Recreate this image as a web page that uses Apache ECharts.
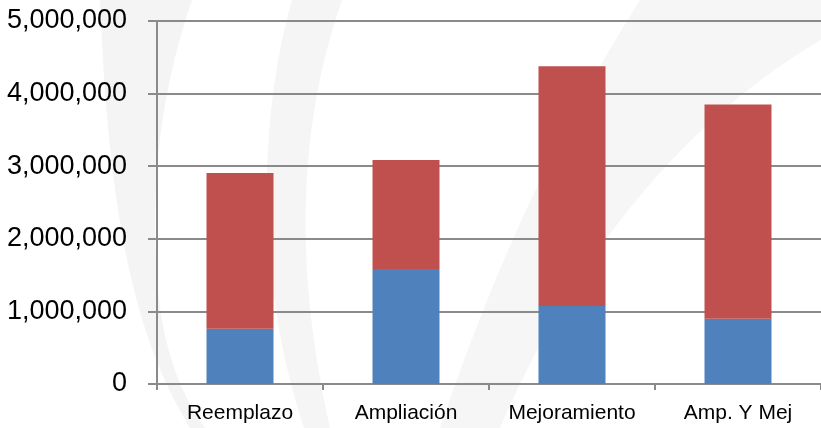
<!DOCTYPE html>
<html>
<head>
<meta charset="utf-8">
<script src="https://cdn.jsdelivr.net/npm/echarts@6/dist/echarts.min.js"></script>
<style>
  html, body { margin: 0; padding: 0; background: #ffffff; }
  #chart { width: 821px; height: 428px; }
</style>
</head>
<body>
<div id="chart"></div>
<script>
// Project categories
const categories = ['Reemplazo', 'Ampliación', 'Mejoramiento', 'Amp. Y Mej'];
// Lower (blue) and upper (red) stacked amounts
const seriesBlue = [762000, 1584000, 1074000, 899000];
const seriesRed = [2144000, 1501000, 3301000, 2952000];
// Value axis range
const yMin = 0;
const yMax = 5000000;
const yStep = 1000000;

const FONT = '"Liberation Sans", Arial, Helvetica, sans-serif';
const GRID_GRAY = '#8a8a8a';

// Sample a chain of cubic Bezier segments into polygon points
function bezierOutline(start, segs) {
  const pts = [start];
  let p0 = start;
  segs.forEach(s => {
    if (s.length === 1) { pts.push(s[0]); p0 = s[0]; return; }
    const [c1, c2, p3] = s;
    for (let i = 1; i <= 24; i++) {
      const t = i / 24, u = 1 - t;
      pts.push([
        u*u*u*p0[0] + 3*u*u*t*c1[0] + 3*u*t*t*c2[0] + t*t*t*p3[0],
        u*u*u*p0[1] + 3*u*u*t*c1[1] + 3*u*t*t*c2[1] + t*t*t*p3[1]
      ]);
    }
    p0 = p3;
  });
  return pts;
}

// Faint decorative swooshes behind the plot
const swooshes = [
  { fill: '#f4f4f4', pts: bezierOutline([100, 0], [[[192, 0]], [[165, 80], [148, 170], [158, 290]], [[165, 360], [185, 400], [205, 428]], [[190, 428]], [[130, 330], [108, 200], [100, 0]]]) },
  { fill: '#f5f5f5', pts: bezierOutline([292, 0], [[[342, 0]], [[300, 120], [292, 260], [330, 428]], [[304, 428]], [[255, 280], [258, 120], [292, 0]]]) },
  { fill: '#f6f6f6', pts: bezierOutline([640, 0], [[[821, 0]], [[821, 40]], [[700, 110], [580, 240], [500, 428]], [[440, 428]], [[500, 250], [570, 110], [640, 0]]]) }
];

const chart = echarts.init(document.getElementById('chart'), null, { renderer: 'canvas' });

chart.setOption({
  backgroundColor: '#ffffff',
  animation: false,
  graphic: swooshes.map(s => ({
    type: 'polygon', z: -10, silent: true,
    shape: { points: s.pts },
    style: { fill: s.fill }
  })),
  grid: { left: 157, right: 0, top: 21, bottom: 44, containLabel: false, outerBoundsMode: 'none' },
  xAxis: {
    type: 'category',
    data: categories,
    axisLine: { show: true, lineStyle: { color: GRID_GRAY, width: 2 } },
    axisTick: { show: true, length: 6, lineStyle: { color: GRID_GRAY, width: 2 } },
    axisLabel: { color: '#000', fontFamily: FONT, fontSize: 21, margin: 19, interval: 0 },
    splitLine: { show: false }
  },
  yAxis: {
    type: 'value',
    min: yMin, max: yMax, interval: yStep,
    axisLine: { show: true, lineStyle: { color: GRID_GRAY, width: 2 } },
    axisTick: { show: true, length: 9, lineStyle: { color: GRID_GRAY, width: 2 } },
    axisLabel: {
      color: '#000', fontFamily: FONT, fontSize: 27, margin: 30,
      formatter: v => v.toLocaleString('en-US')
    },
    splitLine: { show: true, lineStyle: { color: GRID_GRAY, width: 2 } }
  },
  series: [
    {
      name: 'Blue', type: 'bar', stack: 'total', data: seriesBlue,
      barWidth: 67, itemStyle: { color: '#4f81bd' }
    },
    {
      name: 'Red', type: 'bar', stack: 'total', data: seriesRed,
      barWidth: 67, itemStyle: { color: '#c0504d' }
    }
  ]
});
</script>
</body>
</html>
